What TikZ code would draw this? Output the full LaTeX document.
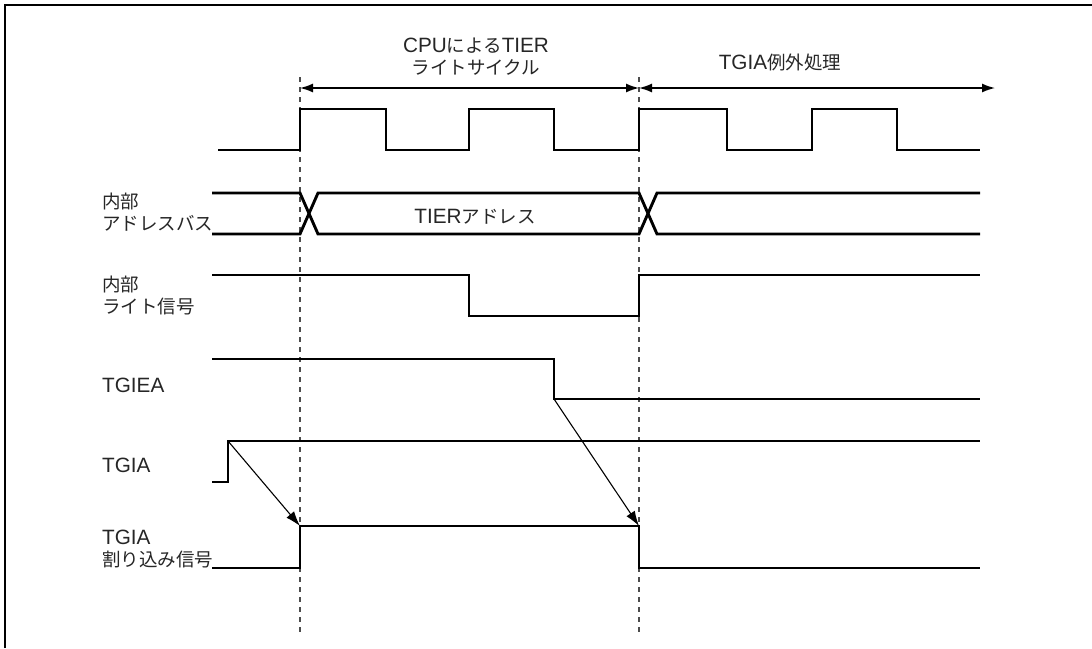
\documentclass[tikz,border=0pt]{standalone}
\usepackage{fontspec}
\setmainfont{Noto Sans CJK JP}
\newfontfamily\lat{Liberation Sans}[Scale=1.12]
\usetikzlibrary{arrows.meta}

\begin{document}
\begin{tikzpicture}[
    x=1pt, y=-1pt,
    sig/.style={line width=2.9pt, line join=miter},
    guide/.style={dash pattern=on 5pt off 5pt, line width=1.3pt, black!70},
    span/.style={{Latex[length=13pt,width=9pt]}-{Latex[length=13pt,width=9pt]}, line width=1.5pt},
    cause/.style={-{Latex[length=15pt,width=10pt]}, line width=1.1pt},
    lbl/.style={anchor=west, align=left, inner sep=0pt, text=black!85, font=\fontsize{18.5}{22}\selectfont}
]
\useasboundingbox (0,0) rectangle (1092,648);

% Frame
\draw[line width=2.2pt] (5,648) -- (5,5) -- (1092,5);

% Guides
\coordinate (g0top) at (300,77);
\coordinate (g0bot) at (300,632);
\coordinate (g1top) at (639,77);
\coordinate (g1bot) at (639,632);
\draw[guide] (g0top) -- (g0bot);
\draw[guide] (g1top) -- (g1bot);

% Spans
\coordinate (t0) at (300,88);
\coordinate (t1) at (639,88);
\coordinate (t2) at (995,88);
\draw[span] (t0) -- (t1);
\draw[span] (t1) -- (t2);
\node[lbl, anchor=center, align=center] (cycle) at (476,56.5) {{\lat CPU}による{\lat TIER}\\ライトサイクル};
\node[lbl, anchor=center] (excep) at (780,62) {{\lat TGIA}例外処理};

% Clock
\draw[sig] (218,150) -- (300,150) -- (300,109) -- (386,109) -- (386,150) -- (469,150) -- (469,109) -- (554,109) -- (554,150)
    -- (639,150) -- (639,109) -- (727,109) -- (727,150) -- (812,150) -- (812,109) -- (897,109) -- (897,150) -- (980,150);

% Address bus
\node[lbl] (addr) at (102,212) {内部\\アドレスバス};
\draw[sig] (212,193) -- (300,193) -- (318,234) -- (639,234) -- (657,193) -- (980,193);
\draw[sig] (212,234) -- (300,234) -- (318,193) -- (639,193) -- (657,234) -- (980,234);
\node[lbl, anchor=center] (tieraddr) at (475,217) {{\lat TIER}アドレス};

% Write signal
\node[lbl] (write) at (102,295.5) {内部\\ライト信号};
\draw[sig] (212,275) -- (469,275) -- (469,316) -- (639,316) -- (639,275) -- (980,275);

% TGIEA
\node[lbl] (tgiea) at (102,385) {\lat TGIEA};
\coordinate (ieafall) at (554,399);
\draw[sig] (212,359) -- (554,359) -- (ieafall) -- (980,399);

% TGIA
\node[lbl] (tgia) at (102,465) {\lat TGIA};
\coordinate (tgiarise) at (228,441);
\draw[sig] (212,482) -- (228,482) -- (tgiarise) -- (980,441);

% TGIA interrupt
\node[lbl] (intr) at (102,549) {{\lat TGIA}\\割り込み信号};
\coordinate (intrise) at (300,526);
\coordinate (intfall) at (639,526);
\draw[sig] (212,568) -- (300,568) -- (intrise) -- (intfall) -- (639,568) -- (980,568);

% Causes
\draw[cause] (tgiarise) -- (intrise);
\draw[cause] (ieafall) -- (intfall);

\end{tikzpicture}
\end{document}
